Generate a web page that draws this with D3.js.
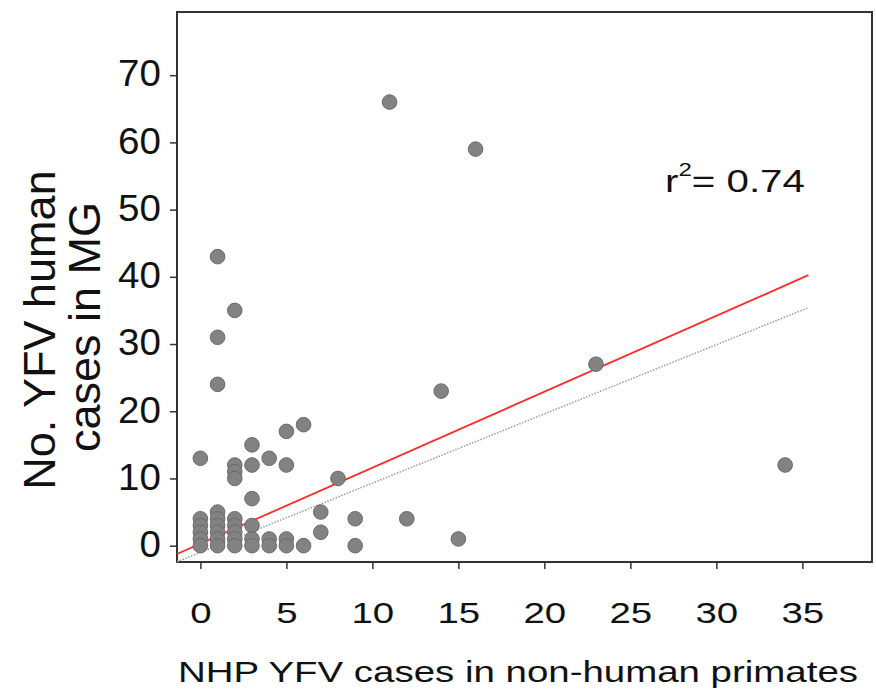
<!DOCTYPE html>
<html lang="en">

<head>
    <meta charset="utf-8">
    <title>YFV human vs NHP cases</title>
    <script src="https://d3js.org/d3.v7.min.js"></script>
    <style>
        body { margin: 0; background: #fff; }
        text { font-family: "Liberation Sans", Arial, Helvetica, sans-serif; fill: #111; }
    </style>
</head>

<body>
    <div id="chart"></div>

    <script>
        // NHP cases (x) and human cases (y), one entry per municipality
        var nhpCases   = [11, 16, 1, 2, 1, 1, 23, 14, 34, 0, 3, 5, 6, 2, 2, 2, 3, 4, 5, 8, 3, 7, 7, 9, 12, 9, 15, 6, 5, 5, 4, 4, 3, 3, 3, 2, 2, 2, 2, 2, 1, 1, 1, 1, 1, 1, 0, 0, 0, 0, 0]
        var humanCases = [66, 59, 43, 35, 31, 24, 27, 23, 12, 13, 15, 17, 18, 12, 11, 10, 12, 13, 12, 10, 7, 5, 2, 4, 4, 0, 1, 0, 1, 0, 1, 0, 3, 1, 0, 4, 3, 2, 1, 0, 5, 4, 3, 2, 1, 0, 4, 3, 2, 1, 0]

        var xTicks = [0, 5, 10, 15, 20, 25, 30, 35]
        var yTicks = [0, 10, 20, 30, 40, 50, 60, 70]

        // fitted line (red) and reference line (dotted grey): [slope, intercept]
        var fitLine = [1.13, 0.3]
        var refLine = [1.03, -1.0]
        var lineEndX = 35.35
        var rSquared = "0.74"

        var width = 876
        var height = 695
        var plotLeft = 177, plotRight = 872, plotTop = 12, plotBottom = 562

        var svg = d3.select("#chart")
            .append("svg")
            .attr("width", width)
            .attr("height", height)

        var x = d3.scaleLinear().domain([-1.36, 39.05]).range([plotLeft, plotRight])
        var y = d3.scaleLinear().domain([-2.43, 79.4]).range([plotBottom, plotTop])

        // axes
        var xAxis = svg.append("g")
            .attr("transform", "translate(0," + plotBottom + ")")
            .call(d3.axisBottom(x).tickValues(xTicks).tickSize(7).tickSizeOuter(0))
        xAxis.select(".domain").remove()
        xAxis.selectAll("line").attr("stroke", "#333").attr("stroke-width", 1.5)
        xAxis.selectAll("text")
            .attr("y", 61)
            .attr("dy", 0)
            .attr("transform", "scale(1.28,1)")
            .style("font-size", "30px")
            .attr("fill", "#111")

        var yAxis = svg.append("g")
            .attr("transform", "translate(" + plotLeft + ",0)")
            .call(d3.axisLeft(y).tickValues(yTicks).tickSize(7).tickSizeOuter(0))
        yAxis.select(".domain").remove()
        yAxis.selectAll("line").attr("stroke", "#333").attr("stroke-width", 1.5)
        yAxis.selectAll("text")
            .attr("x", -15)
            .attr("dy", "0.3em")
            .attr("transform", "scale(1.07,1)")
            .style("font-size", "36px")
            .attr("fill", "#111")

        // frame
        svg.append("rect")
            .attr("x", plotLeft)
            .attr("y", plotTop)
            .attr("width", plotRight - plotLeft)
            .attr("height", plotBottom - plotTop)
            .attr("fill", "none")
            .attr("stroke", "#333")
            .attr("stroke-width", 2)

        var plot = svg.append("g")

        // reference line, clipped to the bottom of the frame
        var refStart = Math.max(x.domain()[0], (y.domain()[0] - refLine[1]) / refLine[0])
        plot.append("line")
            .attr("x1", x(refStart))
            .attr("y1", y(refLine[0] * refStart + refLine[1]))
            .attr("x2", x(lineEndX))
            .attr("y2", y(refLine[0] * lineEndX + refLine[1]))
            .attr("stroke", "#9a9a9a")
            .attr("stroke-width", 1.5)
            .attr("stroke-dasharray", "1.5,1.5")

        var fitStart = x.domain()[0]
        plot.append("line")
            .attr("x1", x(fitStart))
            .attr("y1", y(fitLine[0] * fitStart + fitLine[1]))
            .attr("x2", x(lineEndX))
            .attr("y2", y(fitLine[0] * lineEndX + fitLine[1]))
            .attr("stroke", "#ff2a2a")
            .attr("stroke-width", 1.8)

        // points
        plot.selectAll("circle")
            .data(nhpCases)
            .enter()
            .append("circle")
            .attr("cx", function (d) { return x(d) })
            .attr("cy", function (d, i) { return y(humanCases[i]) })
            .attr("r", 7.3)
            .attr("fill", "#828282")
            .attr("stroke", "#6a6a6a")
            .attr("stroke-width", 1)

        // r squared label
        var rLabel = svg.append("text")
            .attr("transform", "translate(665,192) scale(1.26,1)")
            .style("font-size", "32px")
        rLabel.append("tspan").text("r")
        rLabel.append("tspan").attr("dy", -16).style("font-size", "19px").text("2")
        rLabel.append("tspan").attr("dy", 16).text("= " + rSquared)

        // axis titles
        svg.append("text")
            .attr("x", 178)
            .attr("y", 682)
            .attr("textLength", 680)
            .attr("lengthAdjust", "spacingAndGlyphs")
            .style("font-size", "30px")
            .text("NHP YFV cases in non-human primates")

        svg.append("text")
            .attr("transform", "translate(55,330) rotate(-90)")
            .attr("text-anchor", "middle")
            .style("font-size", "45px")
            .text("No. YFV human")

        svg.append("text")
            .attr("transform", "translate(100,327) rotate(-90)")
            .attr("text-anchor", "middle")
            .style("font-size", "45px")
            .text("cases in MG")
    </script>

</body>

</html>
